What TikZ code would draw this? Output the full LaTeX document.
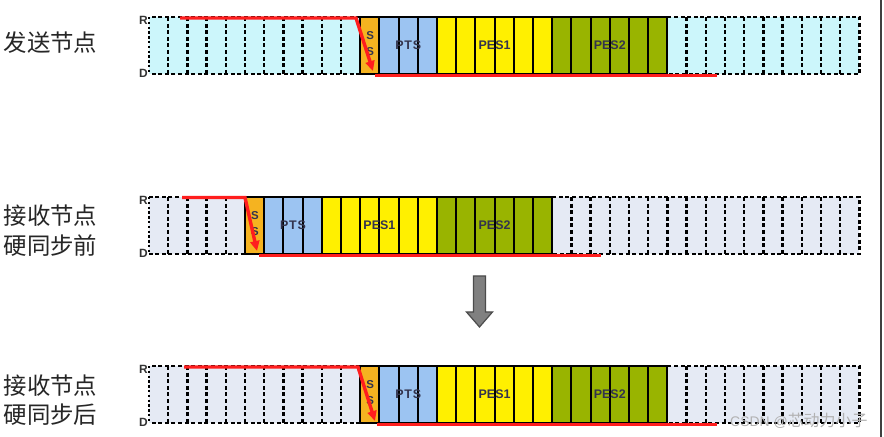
\documentclass[tikz,border=0pt]{standalone}
\usepackage{fontspec}
\setsansfont{Liberation Sans}
\newfontfamily\cjkfont{Noto Sans CJK SC}
\usetikzlibrary{arrows.meta}
\definecolor{bgcyan}{HTML}{CCF6FB}
\definecolor{bggray}{HTML}{E5EAF4}
\definecolor{ssc}{HTML}{F5B320}
\definecolor{ptsc}{HTML}{9CC4F2}
\definecolor{pesa}{HTML}{FFF000}
\definecolor{pesb}{HTML}{99B400}
\definecolor{redl}{HTML}{FF1E1E}
\definecolor{labc}{HTML}{33334D}
\definecolor{arrg}{HTML}{808080}
\newcommand\slotrow[6]{%
\pgfmathsetmacro\xa{149+#2*19.2}%
\pgfmathsetmacro\xb{\xa+19.2}%
\pgfmathsetmacro\xc{\xb+57.6}%
\pgfmathsetmacro\xd{\xc+115.2}%
\pgfmathsetmacro\xe{\xd+115.2}%
\pgfmathsetmacro\yb{#1+57}%
\fill[#3] (149,#1) rectangle (859.4,\yb);
\draw[dashln] (\xa,#1) -- (149,#1);
\draw[dashln] (\xa,\yb) -- (149,\yb);
\draw[dotln] (149,#1) -- (149,\yb);
\foreach \i in {1,...,#6} \draw[dashln] (149+\i*19.2,#1) -- (149+\i*19.2,\yb);
\draw[dashln] (\xe,#1) -- (859.4,#1) -- (859.4,\yb) -- (\xe,\yb);
\foreach \i in {1,...,#5} \draw[dashln] (\xe+\i*19.2,#1) -- (\xe+\i*19.2,\yb);
\node[seg, fill=ssc, minimum width=19.2bp] (#4ss) at (\xa,#1) {};
\node[seg, fill=ptsc, minimum width=57.6bp] (#4pts) at (\xb,#1) {};
\node[seg, fill=pesa, minimum width=115.2bp] (#4pesa) at (\xc,#1) {};
\node[seg, fill=pesb, minimum width=115.2bp] (#4pesb) at (\xd,#1) {};
\foreach \i in {1,2} \draw[solidln] (\xb+\i*19.2,#1) -- ++(0,57);
\foreach \i in {1,...,5} \draw[solidln] (\xc+\i*19.2,#1) -- ++(0,57);
\foreach \i in {1,...,5} \draw[solidln] (\xd+\i*19.2,#1) -- ++(0,57);
\node[seglab] (#4ptst) at (#4pts.center) {P\kern0.8bp T\kern0.8bp S};
\node[seglab] (#4pesat) at (#4pesa.center) {PES1};
\node[seglab] (#4pesbt) at (#4pesb.center) {PES2};
\node[sslab] (#4sa) at (\xa+10,#1+19) {S};
\node[sslab] (#4sb) at (\xa+10,#1+35) {S};
\node[rdlab] (#4r) at (148,#1+3) {R};
\node[rdlab] (#4d) at (148,\yb-1) {D};
}
\begin{document}
\begin{tikzpicture}[x=1bp,y=-1bp,
  dashln/.style={line width=2.3bp, dash pattern=on 4bp off 2.6bp},
  dotln/.style={line width=2.3bp, dash pattern=on 2.4bp off 2.4bp},
  solidln/.style={line width=2bp},
  seg/.style={draw=black, line width=2bp, anchor=north west, minimum height=57bp, inner sep=0pt, outer sep=0pt},
  seglab/.style={font=\sffamily\bfseries\fontsize{12.5}{12.5}\selectfont, text=labc, inner sep=0pt},
  sslab/.style={font=\sffamily\bfseries\fontsize{11.5}{11.5}\selectfont, text=labc, inner sep=0pt},
  rdlab/.style={font=\sffamily\bfseries\fontsize{12}{12}\selectfont, text=black!80, anchor=east, inner sep=0pt},
  redln/.style={draw=redl, line width=3.4bp},
  cjklab/.style={font=\cjkfont\fontsize{23.5}{29.5}\selectfont, text=black!85, align=center, inner sep=0pt}
]
\useasboundingbox (0,0) rectangle (884,437);
\fill[white] (0,0) rectangle (884,437);
% rows
\slotrow{17}{11}{bgcyan}{t}{9}{10}
\slotrow{197}{5}{bggray}{m}{15}{4}
\slotrow{366}{11}{bggray}{b}{9}{10}
% red waveforms
\coordinate (ta) at (180,18); \coordinate (tb) at (356,18); \coordinate (tc) at (373,71);
\coordinate (td) at (375,75.5); \coordinate (te) at (717,75.5);
\draw[redln, -{Triangle[length=10bp,width=9bp]}] (ta) -- (tb) -- (tc);
\draw[redln] (td) -- (te);
\coordinate (ma) at (182,197.5); \coordinate (mb) at (245,197.5); \coordinate (mc) at (257,251);
\coordinate (md) at (259,255.5); \coordinate (me) at (601,255.5);
\draw[redln, -{Triangle[length=10bp,width=9bp]}] (ma) -- (mb) -- (mc);
\draw[redln] (md) -- (me);
\coordinate (ba) at (184,367); \coordinate (bb) at (358,367); \coordinate (bc) at (375,421);
\coordinate (bd) at (377,424.5); \coordinate (be) at (717,424.5);
\draw[redln, -{Triangle[length=10bp,width=9bp]}] (ba) -- (bb) -- (bc);
\draw[redln] (bd) -- (be);
% left labels
\node[cjklab] (l1) at (50.5,42.5) {发送节点};
\node[cjklab] (l2) at (50.5,230.5) {接收节点\\硬同步前};
\node[cjklab] (l3) at (50.5,400) {接收节点\\硬同步后};
% gray down arrow
\draw[fill=arrg, draw=black!70, line width=1.2bp]
  (473.5,276) -- (485.5,276) -- (485.5,312) -- (492.5,312) -- (479.5,327) -- (466.5,312) -- (473.5,312) -- cycle;
% watermark
\node[anchor=west, inner sep=0pt, text=black!30] (wm) at (730,421)
  {\sffamily\fontsize{14}{14}\selectfont CSDN @{\cjkfont\fontsize{16}{16}\selectfont 芯动力小子}};
% right border
\draw[black!75, line width=1.5bp] (881,0) -- (881,437);
\end{tikzpicture}
\end{document}
